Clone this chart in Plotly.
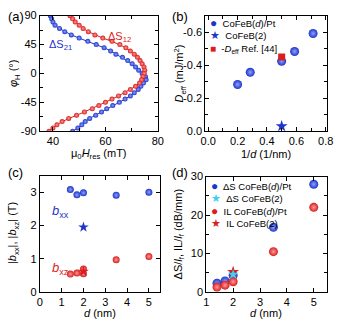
import plotly.graph_objects as go

BLAU = "#1f35c8"
BLAU_HELL = "#8ea0ff"
ROT = "#d81e1e"
ROT_HELL = "#ff9a9a"
CYAN = "#3fd0f0"
FONT = "Liberation Sans, Arial, sans-serif"

# (a) Winkelabhängigkeit der Resonanzfelder
phi_h = [90, 85, 80, 75, 70, 65, 60, 55, 50, 45, 40, 35, 30, 25, 20, 15, 10, 5, 0,
         -5, -10, -15, -20, -25, -30, -35, -40, -45, -50, -55, -60, -65, -70, -75, -80, -85, -90]
h_res_s21 = [39.0, 39.5, 40.0, 40.8, 42.5, 44.5, 47.0, 50.0, 53.3, 56.5, 59.5, 62.0, 64.0,
             66.5, 68.5, 70.2, 71.5, 72.7, 74.0, 75.3, 75.5, 74.5, 73.5, 72.5, 71.0, 69.5,
             67.5, 65.3, 62.8, 60.5, 58.5, 56.3, 54.0, 52.3, 51.0, 49.5, 47.5]
h_res_s12 = [46.5, 47.5, 48.5, 50.0, 51.5, 53.5, 56.0, 59.0, 62.5, 65.5, 67.8, 69.5, 71.0,
             72.2, 73.2, 74.0, 74.7, 75.0, 74.8, 74.3, 73.8, 73.0, 71.5, 69.5, 67.5, 65.0,
             62.5, 60.0, 57.5, 55.0, 52.0, 49.0, 46.0, 43.5, 41.5, 40.0, 38.5]

# (b) DMI
inv_d = [0.2, 0.286, 0.5, 0.588, 0.714]
d_eff = [-0.283, -0.357, -0.424, -0.483, -0.592]
inv_d_cofeb2 = [0.5]
d_eff_cofeb2 = [-0.03]
inv_d_ref = [0.5]
d_eff_ref = [-0.45]
d_eff_ticks = [0.0, -0.2, -0.4, -0.6]
d_eff_ticktext = ["0.0", "-0.2", "-0.4", "-0.6"]

# (c) Magnetoelastische Kopplung
dicke = [1.4, 1.7, 2.0, 3.5, 5.0]
b_xx = [3.08, 2.92, 2.98, 2.91, 3.0]
b_xz = [0.54, 0.57, 0.69, 0.97, 1.07]
dicke_2 = [2.0]
b_xx_2 = [1.95]
b_xz_2 = [0.62]
b_xz_extra_d = [2.0]
b_xz_extra = [0.55]

# (d) Verluste
delta_s = [2.3, 2.9, 4.3, 16.8, 28.0]
il = [1.3, 1.8, 2.7, 10.5, 22.0]
delta_s_2 = [4.6]
il_2 = [5.2]

phi_ticks = [-90, -45, 0, 45, 90]
phi_ticktext = ["-90", "-45", "0", "45", "90"]

W, H = 339, 327


def kugel(farbe, hell, groesse):
    return dict(color=farbe, size=groesse, gradient=dict(type="radial", color=hell),
                line=dict(width=0))


def achse(**kw):
    basis = dict(showline=True, linecolor="black", linewidth=1, mirror="ticks",
                 ticks="inside", ticklen=4, tickcolor="black", showgrid=False,
                 zeroline=False, ticklabeloverflow="allow",
                 tickfont=dict(size=11, color="black"))
    basis.update(kw)
    return basis


def dom_x(a, b):
    return [a / W, b / W]


def dom_y(oben, unten):
    return [1 - unten / H, 1 - oben / H]


def txt(text, x, y, groesse=11, farbe="black", winkel=0, xanchor="center", yanchor="middle"):
    # Position in Pixeln von oben links
    return dict(text=text, x=x / W, y=1 - y / H, xref="paper", yref="paper",
                xanchor=xanchor, yanchor=yanchor, showarrow=False, textangle=winkel,
                align="left", font=dict(size=groesse, color=farbe))


def sym(zeichen, farbe, groesse=12):
    return "<span style='color:%s;font-size:%dpx'>%s</span>" % (farbe, groesse, zeichen)


fig = go.Figure()

# (a)
fig.add_trace(go.Scatter(x=h_res_s21, y=phi_h, mode="lines+markers", xaxis="x", yaxis="y",
                         line=dict(color=BLAU, width=1), marker=kugel(BLAU, BLAU_HELL, 5),
                         showlegend=False))
fig.add_trace(go.Scatter(x=h_res_s12, y=phi_h, mode="lines+markers", xaxis="x", yaxis="y",
                         line=dict(color=ROT, width=1), marker=kugel(ROT, ROT_HELL, 5),
                         showlegend=False))

# (b)
fig.add_trace(go.Scatter(x=inv_d, y=d_eff, mode="markers", xaxis="x2", yaxis="y2",
                         marker=kugel(BLAU, BLAU_HELL, 9), showlegend=False))
fig.add_trace(go.Scatter(x=inv_d_ref, y=d_eff_ref, mode="markers", xaxis="x2", yaxis="y2",
                         marker=dict(symbol="square", color=ROT, size=7), showlegend=False))
fig.add_trace(go.Scatter(x=inv_d_cofeb2, y=d_eff_cofeb2, mode="markers", xaxis="x2", yaxis="y2",
                         marker=dict(symbol="star", color=BLAU, size=9), showlegend=False))

# (c)
fig.add_trace(go.Scatter(x=dicke, y=b_xx, mode="markers", xaxis="x3", yaxis="y3",
                         marker=kugel(BLAU, BLAU_HELL, 7), showlegend=False))
fig.add_trace(go.Scatter(x=dicke, y=b_xz, mode="markers", xaxis="x3", yaxis="y3",
                         marker=kugel(ROT, ROT_HELL, 7), showlegend=False))
fig.add_trace(go.Scatter(x=b_xz_extra_d, y=b_xz_extra, mode="markers", xaxis="x3", yaxis="y3",
                         marker=kugel(ROT, ROT_HELL, 7), showlegend=False))
fig.add_trace(go.Scatter(x=dicke_2, y=b_xx_2, mode="markers", xaxis="x3", yaxis="y3",
                         marker=dict(symbol="star", color=BLAU, size=8), showlegend=False))
fig.add_trace(go.Scatter(x=dicke_2, y=b_xz_2, mode="markers", xaxis="x3", yaxis="y3",
                         marker=dict(symbol="star", color=ROT, size=8), showlegend=False))

# (d)
fig.add_trace(go.Scatter(x=dicke, y=delta_s, mode="markers", xaxis="x4", yaxis="y4",
                         marker=kugel(BLAU, BLAU_HELL, 9), showlegend=False))
fig.add_trace(go.Scatter(x=dicke, y=il, mode="markers", xaxis="x4", yaxis="y4",
                         marker=kugel(ROT, ROT_HELL, 9), showlegend=False))
fig.add_trace(go.Scatter(x=dicke_2, y=il_2, mode="markers", xaxis="x4", yaxis="y4",
                         marker=dict(symbol="star", color=ROT, size=9), showlegend=False))
fig.add_trace(go.Scatter(x=dicke_2, y=delta_s_2, mode="markers", xaxis="x4", yaxis="y4",
                         marker=dict(symbol="star", color=CYAN, size=8), showlegend=False))

fig.update_layout(
    width=W, height=H, margin=dict(l=0, r=0, t=0, b=0),
    paper_bgcolor="white", plot_bgcolor="white",
    font=dict(family=FONT, size=11, color="black"),
    xaxis=achse(domain=dom_x(36, 158), anchor="y", range=[35, 80], dtick=20, tick0=0,
                minor=dict(dtick=10, ticks="inside", ticklen=3, tickcolor="black")),
    yaxis=achse(domain=dom_y(10, 130), anchor="x", range=[-90, 90],
                tickvals=phi_ticks, ticktext=phi_ticktext,
                minor=dict(dtick=22.5, tick0=0, ticks="inside", ticklen=3, tickcolor="black")),
    xaxis2=achse(domain=dom_x(207, 333), anchor="y2", range=[-0.02, 0.81], dtick=0.2,
                 tickformat=".1f",
                 minor=dict(dtick=0.1, ticks="inside", ticklen=3, tickcolor="black")),
    yaxis2=achse(domain=dom_y(10, 130), anchor="x2", range=[0.0, -0.7],
                 tickvals=d_eff_ticks, ticktext=d_eff_ticktext,
                 minor=dict(dtick=0.1, ticks="inside", ticklen=3, tickcolor="black")),
    xaxis3=achse(domain=dom_x(36, 160), anchor="y3", range=[0, 5.5], dtick=1),
    yaxis3=achse(domain=dom_y(176, 297), anchor="x3", range=[0, 3.5], dtick=1),
    xaxis4=achse(domain=dom_x(208, 333), anchor="y4", range=[1, 5.5], dtick=1),
    yaxis4=achse(domain=dom_y(177, 297), anchor="x4", range=[0, 30], dtick=10,
                 minor=dict(dtick=5, ticks="inside", ticklen=3, tickcolor="black")),
)

anm = [txt(t, x, y, 13, xanchor="left") for t, x, y in
       [("(a)", 1, 11), ("(b)", 171, 11), ("(c)", 1, 173), ("(d)", 171, 173)]]

# Achsentitel
anm += [
    txt("μ<sub>0</sub><i>H</i><sub>res</sub> (mT)", 97, 154),
    txt("<i>φ</i><sub>H</sub> (°)", 10, 70, winkel=-90),
    txt("1/<i>d</i> (1/nm)", 270, 154),
    txt("<i>D</i><sub>eff</sub> (mJ/m<sup>2</sup>)", 181, 70, winkel=-90),
    txt("<i>d</i> (nm)", 98, 319),
    txt("|<i>b</i><sub>xx</sub>|, |<i>b</i><sub>xz</sub>| (T)", 9, 236, winkel=-90),
    txt("<i>d</i> (nm)", 270, 319),
    txt("ΔS/<i>l</i><sub>f</sub>, IL/<i>l</i><sub>f</sub> (dB/mm)", 180, 237, winkel=-90),
]

# Kurvenbeschriftung (a)
anm.append(dict(text="ΔS<sub>21</sub>", x=42.8, y=45, xref="x", yref="y", showarrow=False,
                font=dict(size=11, color=BLAU)))
anm.append(dict(text="ΔS<sub>12</sub>", x=65.5, y=57, xref="x", yref="y", showarrow=False,
                font=dict(size=11, color=ROT)))

# Beschriftung (c)
anm.append(dict(text="<i>b</i><sub>xx</sub>", x=0.95, y=2.42, xref="x3", yref="y3",
                showarrow=False, font=dict(size=13, color=BLAU)))
anm.append(dict(text="<i>b</i><sub>xz</sub>", x=0.95, y=0.72, xref="x3", yref="y3",
                showarrow=False, font=dict(size=13, color=ROT)))

# Legenden als mehrzeiliger Text
leg_b = "<br>".join([
    sym("●", BLAU) + "  CoFeB(<i>d</i>)/Pt",
    sym("★", BLAU, 11) + "  CoFeB(2)",
    sym("■", ROT, 10) + "  -<i>D</i><sub>eff</sub> Ref. [44]",
])
anm.append(txt(leg_b, 210, 8, 9.5, xanchor="left", yanchor="top"))

leg_d = "<br>".join([
    sym("●", BLAU) + "  ΔS CoFeB(<i>d</i>)/Pt",
    sym("★", CYAN, 11) + "  ΔS CoFeB(2)",
    sym("●", ROT) + "  IL CoFeB(<i>d</i>)/Pt",
    sym("★", ROT, 11) + "  IL CoFeB(2)",
])
anm.append(txt(leg_d, 211, 177, 9.5, xanchor="left", yanchor="top"))

fig.update_layout(annotations=anm)

fig.write_html("out.html", config={"displayModeBar": False},
               post_script="document.body.style.margin='0';"
                           "document.body.style.overflow='hidden';")
